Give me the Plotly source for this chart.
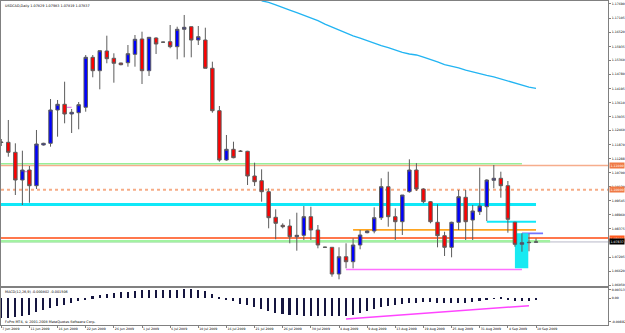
import plotly.graph_objects as go

# ---------------- data ----------------
bars = list(range(-1, 76))

opens = [1.11976, 1.11963, 1.11549, 1.10402, 1.10816, 1.10166, 1.11852, 1.11922, 1.13301, 1.13537,
         1.13135, 1.13189, 1.13413, 1.15483, 1.14928, 1.15744, 1.15442, 1.15247, 1.15259, 1.15607,
         1.16241, 1.14928, 1.16282, 1.16110, 1.16129, 1.15922, 1.16642, 1.16750, 1.16199, 1.16199,
         1.15028, 1.13272, 1.11230, 1.11673, 1.11595, 1.11591, 1.10568, 1.10373, 1.09918, 1.08858,
         1.08526, 1.08497, 1.08054, 1.08112, 1.08883, 1.08332, 1.07620, 1.07615, 1.06510, 1.07226,
         1.07019, 1.07711, 1.08220, 1.08290, 1.08841, 1.10125, 1.08883, 1.08676, 1.09918, 1.10816,
         1.10030, 1.09504, 1.08651, 1.08096, 1.07615, 1.08651, 1.09686, 1.08746, 1.09090, 1.09297,
         1.10390, 1.10473, 1.10166, 1.08651, 1.07740, 1.07806, 1.07829]
highs = [1.12100, 1.12887, 1.11922, 1.11616, 1.10982, 1.12473, 1.11943, 1.13756, 1.13715, 1.14473,
         1.13342, 1.13632, 1.15578, 1.15578, 1.15756, 1.16377, 1.15649, 1.15255, 1.15992, 1.16406,
         1.16543, 1.16311, 1.16311, 1.16129, 1.16820, 1.16750, 1.17235, 1.16750, 1.16779, 1.16709,
         1.15301, 1.13466, 1.12266, 1.11988, 1.11644, 1.11610, 1.11119, 1.10845, 1.10059, 1.09189,
         1.08609, 1.08775, 1.09048, 1.09326, 1.09297, 1.08539, 1.07640, 1.07615, 1.07615, 1.07781,
         1.07988, 1.08332, 1.08311, 1.09272, 1.10473, 1.10746, 1.09230, 1.09781, 1.11259, 1.11100,
         1.10059, 1.09533, 1.09396, 1.08261, 1.08676, 1.09988, 1.09988, 1.09367, 1.10912, 1.10431,
         1.11023, 1.10746, 1.10361, 1.08676, 1.08195, 1.08170, 1.07983]
lows = [1.11810, 1.11367, 1.09781, 1.09367, 1.09462, 1.10030, 1.11831, 1.11781, 1.12195, 1.12750,
        1.12348, 1.12502, 1.13230, 1.14655, 1.14158, 1.15235, 1.14431, 1.15152, 1.15094, 1.15094,
        1.14377, 1.14709, 1.15620, 1.16088, 1.15856, 1.15400, 1.15483, 1.15483, 1.15992, 1.15028,
        1.13189, 1.11160, 1.11201, 1.11301, 1.11562, 1.10195, 1.10154, 1.09504, 1.08402, 1.07947,
        1.08402, 1.07781, 1.07475, 1.07918, 1.07918, 1.07574, 1.07600, 1.06398, 1.06290, 1.06746,
        1.06746, 1.07533, 1.08195, 1.08195, 1.08746, 1.08468, 1.07918, 1.08125, 1.09876, 1.09950,
        1.09437, 1.08609, 1.07615, 1.07255, 1.07201, 1.08332, 1.07918, 1.07918, 1.08953, 1.08705,
        1.10059, 1.09669, 1.08220, 1.07640, 1.07433, 1.07450, 1.07819]
closes = [1.11955, 1.11549, 1.10402, 1.10816, 1.10166, 1.11893, 1.11922, 1.13301, 1.13537, 1.13135,
          1.13206, 1.13520, 1.15483, 1.14928, 1.15756, 1.15425, 1.15235, 1.15177, 1.15632, 1.16228,
          1.14928, 1.16311, 1.16034, 1.16108, 1.15922, 1.16642, 1.16725, 1.16199, 1.16336, 1.15028,
          1.13272, 1.11230, 1.11673, 1.11326, 1.11591, 1.10568, 1.10332, 1.09918, 1.08841, 1.08609,
          1.08468, 1.08054, 1.08112, 1.08883, 1.08332, 1.07711, 1.07615, 1.06510, 1.07226, 1.07019,
          1.07711, 1.08125, 1.08290, 1.08841, 1.10125, 1.08883, 1.08676, 1.09781, 1.10816, 1.10030,
          1.09504, 1.08676, 1.08096, 1.07615, 1.08651, 1.09711, 1.08676, 1.09119, 1.09326, 1.10402,
          1.10473, 1.10166, 1.08775, 1.07740, 1.07806, 1.07820, 1.07837]

ma_bars = list(range(36, 76))
ma_values = [1.17820, 1.17760, 1.17655, 1.17560, 1.17440, 1.17330, 1.17220, 1.17115, 1.17000, 1.16860,
             1.16735, 1.16610, 1.16490, 1.16370, 1.16280, 1.16165, 1.16050, 1.15965, 1.15880, 1.15770,
             1.15685, 1.15620, 1.15578, 1.15490, 1.15400, 1.15290, 1.15180, 1.15120, 1.15040, 1.14950,
             1.14870, 1.14790, 1.14730, 1.14670, 1.14580, 1.14490, 1.14400, 1.14320, 1.14250, 1.14199]

macd_hist = [-0.00754, -0.00754, -0.00716, -0.00667, -0.00630, -0.00539, -0.00441, -0.00377, -0.00313, -0.00253,
             -0.00189, -0.00124, -0.00038, 0.00064, 0.00102, 0.00151, 0.00189, 0.00215, 0.00226, 0.00275,
             0.00290, 0.00290, 0.00290, 0.00313, 0.00313, 0.00313, 0.00339, 0.00339, 0.00313, 0.00264,
             0.00162, 0.00038, -0.00038, -0.00124, -0.00226, -0.00253, -0.00339, -0.00415, -0.00501, -0.00566,
             -0.00603, -0.00630, -0.00652, -0.00667, -0.00690, -0.00690, -0.00690, -0.00690, -0.00690, -0.00667,
             -0.00630, -0.00566, -0.00501, -0.00415, -0.00351, -0.00313, -0.00253, -0.00226, -0.00189, -0.00189,
             -0.00162, -0.00162, -0.00189, -0.00189, -0.00189, -0.00189, -0.00189, -0.00162, -0.00124, -0.00064,
             -0.00026, 0.00026, -0.00064, -0.00102, -0.00124, -0.00124, -0.00080]

# visible price-scale labels (the one under the current-price box is hidden in the reference)
price_ticks = [1.17690, 1.17105, 1.16520, 1.15935, 1.15360, 1.14780, 1.14195, 1.13610, 1.13035, 1.12460,
               1.11870, 1.11288, 1.10700, 1.10120, 1.09545, 1.08960, 1.08375, 1.07205, 1.06620,
               1.06050]
price_tick_text = ["%.5f" % v for v in price_ticks]

macd_ticks = [0.00313, 0.0, -0.00882]
macd_tick_text = ["0.00313", "0.00", "-0.00882"]

date_tick_bars = [-1, 3, 7, 11, 15, 19, 23, 27, 31, 35, 39, 43, 47, 51, 55, 59, 63, 67, 71, 75]
date_tick_text = ["7 Jun 2009", "11 Jun 2009", "16 Jun 2009", "22 Jun 2009", "26 Jun 2009",
                  "1 Jul 2009", "6 Jul 2009", "10 Jul 2009", "16 Jul 2009", "21 Jul 2009",
                  "26 Jul 2009", "30 Jul 2009", "4 Aug 2009", "9 Aug 2009", "13 Aug 2009",
                  "19 Aug 2009", "25 Aug 2009", "31 Aug 2009", "4 Sep 2009", "10 Sep 2009"]

# full-width horizontal lines: price, color, width, dash, label box colour
full_lines = [
    (1.11000, "#F6AD8C", 1.5, "solid", "#F07A45"),
    (1.10000, "#F6AC86", 2, "dot", "#F07A45"),
    (1.08000, "#FF4A10", 1.3, "solid", "#FF5A1E"),
]
bid_price = 1.07837

# partial horizontal segments: price, start bar (None = left edge), end bar, color, width
segments = [
    (1.11077, None, 73, "#98EE98", 1.5),
    (1.09388, None, 75, "#10E8F8", 3),
    (1.07868, None, 77, "#A2F2A2", 2.6),
    (1.08340, 49, 75, "#FFA520", 1.8),
    (1.06696, 48, 73, "#FF70FF", 1.7),
    (1.08676, 68, 75, "#10E8F8", 2),
    (1.08195, 73, 76, "#7474FF", 1.7),
    (1.10746, 2.1, 2.7, "#E070E0", 1),
    (1.13413, 8.3, 9.0, "#E070E0", 1),
]
rect_box = (72, 73.9, 1.06746, 1.08195)
macd_trend = (48, -0.00780, 74, -0.00279)

header_text = "USDCAD,Daily 1.07829 1.07983 1.07819 1.07837"
macd_text = "MACD(12,26,9) -0.000802 -0.001506"
copyright_text = "FxPro MT4, \u00a9 2001-2008 MetaQuotes Software Corp."

# ---------------- figure ----------------
XR = [-1.04, 85.23]
FONT = "DejaVu Sans"
FS = 3.2

fig = go.Figure()

fig.add_trace(go.Candlestick(
    x=bars, open=opens, high=highs, low=lows, close=closes,
    xaxis="x", yaxis="y",
    increasing=dict(line=dict(color="#5c5c5c", width=1), fillcolor="#0000FF"),
    decreasing=dict(line=dict(color="#5c5c5c", width=1), fillcolor="#FF0000"),
    whiskerwidth=0, showlegend=False, hoverinfo="skip"))

fig.add_trace(go.Scatter(
    x=ma_bars, y=ma_values, mode="lines", xaxis="x", yaxis="y",
    line=dict(color="#22B4F2", width=1.3), showlegend=False, hoverinfo="skip"))

fig.add_trace(go.Bar(
    x=bars, y=macd_hist, xaxis="x2", yaxis="y2", width=0.22,
    marker=dict(color="#15153f", line=dict(width=0)), showlegend=False, hoverinfo="skip"))

shapes = []
for price, col, w, dash, _ in full_lines:
    shapes.append(dict(type="line", xref="paper", yref="y", x0=0, x1=1, y0=price, y1=price,
                       line=dict(color=col, width=w, dash=dash), layer="below"))
shapes.append(dict(type="line", xref="paper", yref="y", x0=0, x1=1, y0=bid_price, y1=bid_price,
                   line=dict(color="#B8B8C8", width=1), layer="below"))
for price, x0, x1, col, w in segments:
    shapes.append(dict(type="line", xref="x", yref="y", x0=XR[0] if x0 is None else x0, x1=x1,
                       y0=price, y1=price, line=dict(color=col, width=w), layer="below"))
shapes.append(dict(type="rect", xref="x", yref="y", x0=rect_box[0], x1=rect_box[1],
                   y0=rect_box[2], y1=rect_box[3], fillcolor="#18EAF2",
                   line=dict(width=0), layer="below"))
shapes.append(dict(type="line", xref="x2", yref="y2", x0=macd_trend[0], y0=macd_trend[1],
                   x1=macd_trend[2], y1=macd_trend[3], line=dict(color="#FF44FF", width=1.5)))

annotations = []
for price, _, _, _, box in full_lines:
    annotations.append(dict(xref="paper", yref="y", x=1, y=price, xanchor="left", yanchor="middle",
                            xshift=1, text="%.5f" % price, showarrow=False, bgcolor=box,
                            borderpad=0.5, font=dict(family=FONT, size=FS, color="white")))
annotations.append(dict(xref="paper", yref="y", x=1, y=bid_price, xanchor="left", yanchor="middle",
                        xshift=1, text="%.5f" % bid_price, showarrow=False, bgcolor="#000000",
                        borderpad=0.5, font=dict(family=FONT, size=FS, color="white")))
annotations.append(dict(xref="paper", yref="paper", x=0.003, y=0.986, xanchor="left", yanchor="middle",
                        text=header_text, showarrow=False,
                        font=dict(family=FONT, size=3.4, color="#000000")))
annotations.append(dict(xref="paper", yref="paper", x=0.004, y=0.1019, xanchor="left", yanchor="middle",
                        text=macd_text, showarrow=False,
                        font=dict(family=FONT, size=3.4, color="#000000")))
annotations.append(dict(xref="paper", yref="paper", x=0.003, y=0.0093, xanchor="left", yanchor="middle",
                        text=copyright_text, showarrow=False,
                        font=dict(family=FONT, size=3.4, color="#000000")))

axis_common = dict(showgrid=False, zeroline=False, showline=True, mirror=True,
                   linecolor="#808080", linewidth=1, automargin=False)

fig.update_layout(
    template="none",
    width=625, height=333,
    margin=dict(l=1, r=17, t=1, b=8),
    paper_bgcolor="white", plot_bgcolor="white",
    showlegend=False, bargap=0,
    font=dict(family=FONT, size=FS, color="#000000"),
    xaxis=dict(domain=[0, 1], range=XR, anchor="y", showticklabels=False, ticks="",
               rangeslider=dict(visible=False), **axis_common),
    yaxis=dict(domain=[0.1182, 1], range=[1.05984, 1.17814], anchor="x", side="right",
               tickmode="array", tickvals=price_ticks, ticktext=price_tick_text,
               ticks="outside", ticklen=2, tickcolor="#808080",
               tickfont=dict(family=FONT, size=FS, color="#000000"), **axis_common),
    xaxis2=dict(domain=[0, 1], range=XR, anchor="y2", matches="x",
                tickmode="array", tickvals=date_tick_bars, ticktext=date_tick_text,
                ticklabelposition="outside right", tickangle=0,
                ticks="outside", ticklen=2, tickcolor="#808080",
                tickfont=dict(family=FONT, size=FS, color="#000000"), **axis_common),
    yaxis2=dict(domain=[0, 0.1164], range=[-0.01007, 0.00415], anchor="x2", side="right",
                tickmode="array", tickvals=macd_ticks, ticktext=macd_tick_text,
                ticks="outside", ticklen=2, tickcolor="#808080",
                tickfont=dict(family=FONT, size=FS, color="#000000"), **axis_common),
    shapes=shapes,
    annotations=annotations,
)

fig.write_html("out.html")
